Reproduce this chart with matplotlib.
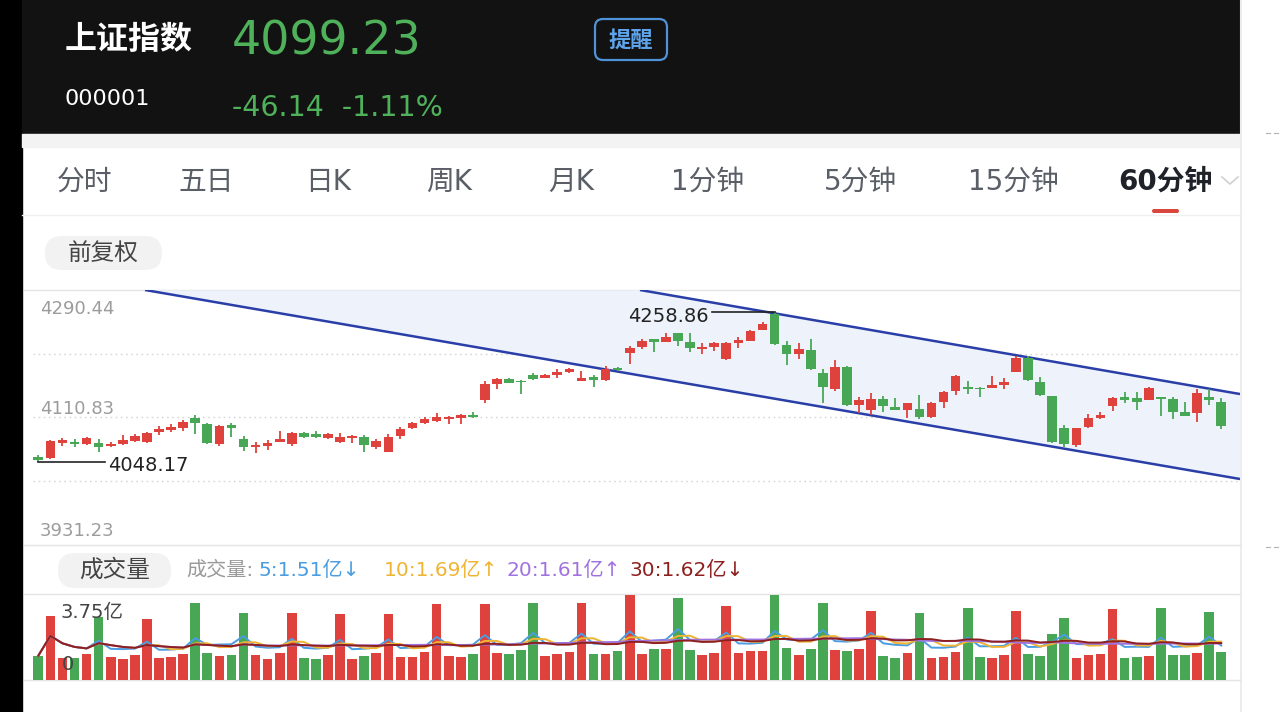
import numpy as np
import pandas as pd
import matplotlib
import matplotlib.pyplot as plt
from matplotlib.patches import Rectangle, FancyBboxPatch

matplotlib.use("Agg")

# 60-minute candles, 上证指数 (000001)
opens = [4055.2, 4053.8, 4075.3, 4076.3, 4073.5, 4075.3, 4070.7, 4073.5, 4078.1, 4075.9,
         4090.8, 4093.2, 4095.6, 4109.7, 4101.7, 4073.5, 4100.3, 4080.9, 4068.8, 4070.7,
         4076.8, 4073.5, 4089.4, 4087.2, 4081.5, 4076.8, 4082.4, 4083.8, 4069.7, 4062.6,
         4084.8, 4095.6, 4103.5, 4106.3, 4108.7, 4109.7, 4114.8, 4135.5, 4158.0, 4165.5,
         4162.6, 4170.3, 4166.5, 4170.7, 4174.9, 4162.6, 4167.5, 4163.7, 4181.0, 4201.2,
         4210.6, 4221.0, 4217.6, 4229.4, 4217.6, 4206.9, 4209.7, 4192.8, 4216.2, 4219.0,
         4234.1, 4256.6, 4213.0, 4200.3, 4205.9, 4173.9, 4150.5, 4182.4, 4128.4, 4121.4,
         4136.5, 4126.0, 4121.4, 4122.4, 4111.5, 4133.1, 4148.2, 4154.2, 4152.8, 4152.0,
         4156.6, 4175.4, 4194.2, 4161.3, 4141.1, 4095.6, 4072.1, 4097.0, 4109.7, 4127.0,
         4139.3, 4137.9, 4135.5, 4139.3, 4136.5, 4119.0, 4116.8, 4140.1, 4133.1]
highs = [4058.0, 4079.6, 4081.9, 4080.5, 4083.8, 4080.5, 4076.8, 4085.8, 4087.6, 4090.8,
         4098.9, 4101.3, 4107.3, 4114.3, 4103.5, 4100.7, 4102.7, 4084.8, 4076.8, 4079.1,
         4092.2, 4090.8, 4090.8, 4091.8, 4089.0, 4089.4, 4086.2, 4085.8, 4080.1, 4087.2,
         4097.0, 4104.5, 4112.0, 4117.6, 4112.9, 4115.1, 4118.6, 4162.6, 4165.8, 4166.5,
         4163.7, 4173.1, 4172.1, 4178.7, 4180.6, 4176.8, 4170.7, 4183.4, 4182.0, 4211.5,
         4221.0, 4221.4, 4229.4, 4230.3, 4230.3, 4215.4, 4217.6, 4217.6, 4224.7, 4234.1,
         4244.9, 4258.86, 4219.0, 4216.2, 4221.0, 4178.7, 4191.8, 4183.4, 4140.1, 4144.9,
         4141.1, 4137.9, 4131.9, 4142.5, 4132.7, 4148.2, 4170.7, 4162.6, 4153.8, 4169.3,
         4166.0, 4197.5, 4197.5, 4168.3, 4141.8, 4100.3, 4096.0, 4115.8, 4118.9, 4140.1,
         4146.3, 4147.2, 4153.4, 4139.7, 4140.1, 4133.1, 4150.5, 4150.5, 4137.9]
lows = [4048.17, 4052.4, 4071.1, 4069.2, 4072.1, 4062.6, 4068.8, 4072.1, 4075.9, 4074.9,
        4086.2, 4090.8, 4092.2, 4087.6, 4073.1, 4071.1, 4083.8, 4063.2, 4061.2, 4065.1,
        4075.9, 4071.1, 4082.4, 4082.4, 4080.5, 4075.3, 4074.5, 4062.6, 4066.9, 4062.2,
        4080.5, 4094.6, 4101.3, 4104.9, 4101.7, 4101.3, 4110.8, 4130.8, 4151.0, 4159.4,
        4143.9, 4163.7, 4165.8, 4166.1, 4174.2, 4162.2, 4154.2, 4162.9, 4177.0, 4186.2,
        4206.9, 4203.5, 4217.2, 4211.5, 4203.5, 4200.3, 4204.9, 4192.5, 4208.3, 4218.6,
        4233.4, 4213.0, 4184.8, 4193.2, 4178.4, 4130.8, 4148.6, 4127.7, 4116.8, 4114.3,
        4119.0, 4120.7, 4109.7, 4108.3, 4110.8, 4123.8, 4142.5, 4143.9, 4140.1, 4151.7,
        4150.5, 4174.9, 4162.6, 4141.8, 4074.5, 4068.8, 4069.7, 4096.7, 4109.4, 4120.4,
        4131.7, 4121.4, 4134.8, 4112.9, 4108.7, 4112.9, 4104.9, 4128.4, 4094.2]
closes = [4051.0, 4077.7, 4078.7, 4074.2, 4081.9, 4069.7, 4073.5, 4079.1, 4085.2, 4089.4,
          4094.2, 4097.9, 4104.9, 4102.7, 4074.5, 4098.9, 4096.0, 4068.8, 4072.1, 4075.3,
          4080.1, 4088.6, 4083.8, 4083.4, 4087.6, 4083.8, 4085.2, 4072.1, 4078.1, 4083.8,
          4095.0, 4102.7, 4108.3, 4112.0, 4112.0, 4113.9, 4111.1, 4157.6, 4164.6, 4159.8,
          4160.8, 4164.6, 4170.3, 4175.4, 4179.6, 4166.9, 4163.7, 4179.2, 4177.7, 4209.1,
          4219.0, 4216.8, 4224.7, 4219.0, 4208.3, 4210.6, 4215.4, 4216.2, 4220.0, 4233.1,
          4242.6, 4214.4, 4200.3, 4206.9, 4179.2, 4153.4, 4182.4, 4128.4, 4135.5, 4136.5,
          4127.4, 4121.4, 4130.8, 4111.5, 4131.3, 4147.2, 4169.3, 4150.5, 4150.5, 4156.6,
          4161.3, 4194.2, 4163.7, 4142.5, 4076.8, 4073.5, 4095.6, 4109.7, 4114.3, 4137.9,
          4135.5, 4133.1, 4152.0, 4136.5, 4119.0, 4113.4, 4144.9, 4135.5, 4099.23]
# volume in 亿
volumes = [1.06, 2.79, 0.95, 0.97, 1.12, 2.76, 0.99, 0.90, 1.08, 2.65,
           0.97, 1.02, 1.13, 3.37, 1.16, 1.05, 1.09, 2.91, 1.08, 0.90,
           1.16, 2.93, 0.95, 0.90, 1.09, 2.88, 0.90, 1.05, 1.16, 2.86,
           0.99, 1.02, 1.23, 3.31, 1.05, 0.99, 1.12, 3.31, 1.16, 1.13,
           1.31, 3.37, 1.05, 1.13, 1.22, 3.37, 1.13, 1.12, 1.26, 3.71,
           1.13, 1.34, 1.37, 3.56, 1.31, 1.09, 1.16, 3.23, 1.19, 1.26,
           1.28, 3.72, 1.38, 1.08, 1.36, 3.34, 1.31, 1.28, 1.34, 3.02,
           1.05, 0.97, 1.16, 2.93, 0.95, 1.02, 1.23, 3.13, 1.02, 0.96,
           1.08, 3.02, 1.12, 1.06, 2.01, 2.69, 0.95, 1.08, 1.13, 3.08,
           0.97, 1.00, 1.03, 3.15, 1.08, 1.08, 1.19, 2.95, 1.21]

price_top, price_bottom = 4290.44, 3931.23
price_labels = ['4290.44', '4110.83', '3931.23']
vol_top = 3.75

# hand-drawn channel anchors (candle index, price)
chan_lower_x, chan_lower_y = [8.84, 99.56], [4290.44, 4024.2]
chan_upper_x, chan_upper_y = [49.85, 99.56], [4290.44, 4143.9]

tabs = ['分时', '五日', '日K', '周K', '月K', '1分钟', '5分钟', '15分钟', '60分钟']
tab_x = [85, 206, 328, 449, 571, 708, 860, 1013, 1165]

ma_windows = [5, 10, 20, 30]
ma_colors = ['#4a9de0', '#efb433', '#a072e0', '#8e1f1f']
ma_labels = ['5:1.51亿↓', '10:1.69亿↑', '20:1.61亿↑', '30:1.62亿↓']
ma_label_x = [258, 384, 506, 629]

RED = '#df413c'
GREEN = '#48a755'
BLUE = '#2a3ea8'

plt.rcParams['font.family'] = ['DejaVu Sans', 'Noto Sans CJK SC']

W, H = 1280, 712
fig = plt.figure(figsize=(12.8, 7.12), dpi=100)
fig.patch.set_facecolor('white')

bg = fig.add_axes([0, 0, 1, 1], zorder=0)
bg.set_xlim(0, W)
bg.set_ylim(H, 0)
bg.axis('off')


def px_axes(l, t, r, b, z):
    a = fig.add_axes([l / W, 1 - b / H, (r - l) / W, (b - t) / H], zorder=z)
    a.set_facecolor('none')
    a.axis('off')
    return a


# ---- app chrome ----
bg.add_patch(Rectangle((0, 0), 22, H, color='black'))
bg.add_patch(Rectangle((22, 0), 1218, 134, color='#121212'))
bg.add_patch(Rectangle((22, 134), 1218, 13, color='#f3f3f3'))
bg.plot([1241, 1241], [0, H], color='#ececec', lw=1.5)
for yy in (133, 547):
    bg.plot([1266, 1270], [yy, yy], color='#b0b0b0', lw=0.8)
    bg.plot([1274, 1278], [yy, yy], color='#b0b0b0', lw=0.8)

bg.text(65, 40, '上证指数', color='white', fontsize=23, fontweight='bold',
        va='center', ha='left', family='Noto Sans CJK SC')
bg.text(232, 42, '4099.23', color='#4fb25b', fontsize=33, va='center', ha='left')
bg.text(65, 99, '000001', color='white', fontsize=16, va='center', ha='left')
bg.text(232, 108, '-46.14  -1.11%', color='#4fb25b', fontsize=20.5, va='center', ha='left')
bg.add_patch(FancyBboxPatch((595, 19), 72, 41, boxstyle='round,pad=0,rounding_size=8',
                            fc='none', ec='#4f92d8', lw=1.6))
bg.text(631, 40, '提醒', color='#5ea4ec', fontsize=16, fontweight='bold',
        va='center', ha='center', family='Noto Sans CJK SC')

for lab, tx in zip(tabs, tab_x):
    sel = lab == '60分钟'
    bg.text(tx, 182, lab, color='#1f2329' if sel else '#5a5e66', fontsize=20,
            fontweight='bold' if sel else 'normal', va='center', ha='center')
bg.add_patch(FancyBboxPatch((1152, 209), 27, 4, boxstyle='round,pad=0,rounding_size=2',
                            fc='#d9463e', ec='none'))
bg.plot([1222, 1230, 1238], [177, 184, 177], color='#d0d0d0', lw=1.2)
bg.plot([22, 1240], [215, 215], color='#f0f0f0', lw=1)

bg.add_patch(FancyBboxPatch((45, 236), 117, 34, boxstyle='round,pad=0,rounding_size=17',
                            fc='#f2f2f3', ec='none'))
bg.text(103, 253, '前复权', color='#444444', fontsize=17, va='center', ha='center',
        family='Noto Sans CJK SC')

bg.add_patch(FancyBboxPatch((58, 553), 113, 35, boxstyle='round,pad=0,rounding_size=17',
                            fc='#f2f2f3', ec='none'))
bg.text(115, 570, '成交量', color='#444444', fontsize=17, va='center', ha='center',
        family='Noto Sans CJK SC')
bg.text(186, 570, '成交量:', color='#9a9a9a', fontsize=14.5, va='center', ha='left')
for lab, col, lx in zip(ma_labels, ma_colors, ma_label_x):
    bg.text(lx, 570, lab, color=col, fontsize=14.5, va='center', ha='left')

for yy in (290, 545, 594, 680):
    bg.plot([24, 1240], [yy, yy], color='#e4e4e4', lw=1)

# ---- price panel ----
n = len(opens)
x = np.arange(n)
o, h, l, c = (np.array(v) for v in (opens, highs, lows, closes))
cols = np.where(c >= o, RED, GREEN)

ax = px_axes(33, 290, 1240, 545, 2)
ax.set_xlim(-0.44, n + 0.56)
ax.set_ylim(price_bottom, price_top)

step = (price_top - price_bottom) / 4
for k in (1, 2, 3):
    ax.axhline(price_bottom + k * step, color='#d6d6d6', lw=1, ls=(0, (1.2, 2.5)), zorder=0)

xs = np.linspace(chan_lower_x[0], chan_lower_x[1], 400)
lower = np.interp(xs, chan_lower_x, chan_lower_y)
upper = np.minimum(np.polyval(np.polyfit(chan_upper_x, chan_upper_y, 1), xs), price_top)
ax.fill_between(xs, lower, upper, color='#edf2fb', lw=0, zorder=1)
ax.plot(chan_lower_x, chan_lower_y, color=BLUE, lw=1.8, zorder=2, solid_capstyle='butt')
ax.plot(chan_upper_x, chan_upper_y, color=BLUE, lw=1.8, zorder=2, solid_capstyle='butt')

ax.vlines(x, l, h, colors=cols, lw=1.3, zorder=3)
ax.bar(x, np.maximum(np.abs(c - o), 1.3), bottom=np.minimum(o, c), width=0.8,
       color=cols, zorder=4)

for lab, dy in zip(price_labels, (-19, 9, 14)):
    ax.annotate(lab, xy=(0, float(lab)), xycoords=('axes fraction', 'data'),
                xytext=(7, dy), textcoords='offset pixels', color='#9c9c9c',
                fontsize=13, va='center', ha='left', annotation_clip=False)

hi = int(np.argmax(h))
lo = int(np.argmin(l))
ax.plot([hi - 5.2, hi], [h[hi], h[hi]], color='#222222', lw=1.2, zorder=5)
ax.annotate(f'{h[hi]:.2f}', xy=(hi - 5.2, h[hi]), xytext=(-3, -4), textcoords='offset pixels',
            ha='right', va='center', fontsize=14, color='#222222')
ax.plot([lo, lo + 5.5], [l[lo], l[lo]], color='#222222', lw=1.2, zorder=5)
ax.annotate(f'{l[lo]:.2f}', xy=(lo + 5.5, l[lo]), xytext=(3, -4), textcoords='offset pixels',
            ha='left', va='center', fontsize=14, color='#222222')

# ---- volume panel ----
vx = px_axes(33, 594, 1240, 680, 2)
vx.set_xlim(-0.44, n + 0.56)
vx.set_ylim(0, vol_top)
vx.bar(x, volumes, width=0.8, color=cols, zorder=2)
vol = pd.Series(volumes)
for win, col in zip(ma_windows, ma_colors):
    vx.plot(x, vol.rolling(win, min_periods=1).mean(), color=col, lw=1.4, zorder=3)
vx.annotate('3.75亿', xy=(0, vol_top), xycoords=('axes fraction', 'data'), xytext=(27, -18),
            textcoords='offset pixels', fontsize=14, color='#444444', va='center', ha='left',
            annotation_clip=False, zorder=5)
vx.annotate('0', xy=(0, 0), xycoords=('axes fraction', 'data'), xytext=(29, 15),
            textcoords='offset pixels', fontsize=14, color='#444444', va='center', ha='left',
            annotation_clip=False, zorder=5)

fig.savefig('out.png', dpi=100)
plt.close(fig)
